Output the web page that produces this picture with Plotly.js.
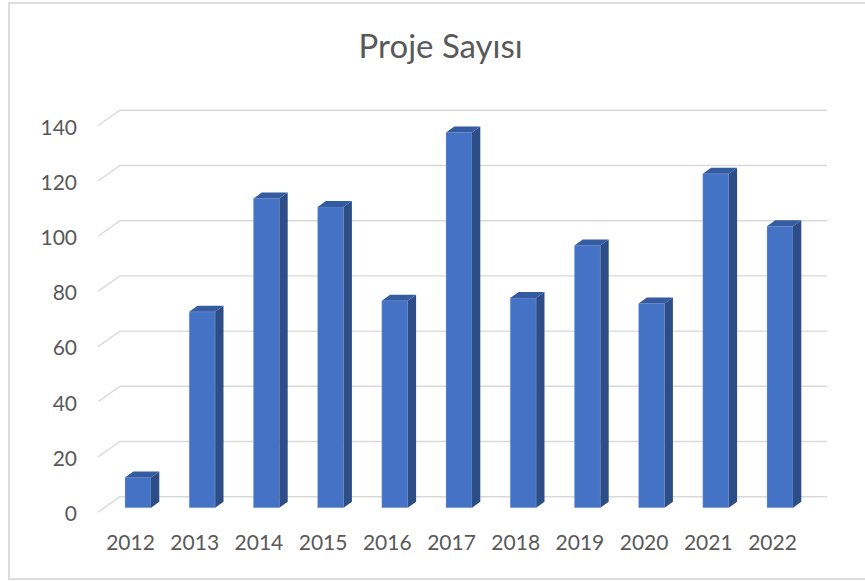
<!DOCTYPE html>
<html>
<head>
<meta charset="utf-8">
<script src="https://cdn.plot.ly/plotly-3.0.1.min.js"></script>
<style>
  html, body { margin: 0; padding: 0; background: #fff; }
  #wrap { position: relative; width: 865px; height: 581px; overflow: hidden; }
  #chart { width: 865px; height: 581px; }
  #frame { position: absolute; left: 8px; top: 2px; width: 880px; height: 578px;
           border: 2px solid #dcdcdc; pointer-events: none; box-sizing: border-box; }
</style>
</head>
<body>
<div id="wrap">
  <div id="chart"></div>
  <div id="frame"></div>
</div>
<script>
// ---- data ----
const years = ['2012', '2013', '2014', '2015', '2016', '2017', '2018', '2019', '2020', '2021', '2022'];
const projects = [11, 71, 112, 109, 75, 136, 76, 95, 74, 121, 102];
const yTickValues = [0, 20, 40, 60, 80, 100, 120, 140];
const chartTitle = 'Proje Sayısı';

// ---- pseudo-3D styling constants (pixels converted to axis units) ----
const PX_PER_X = 64.2;     // pixels per category
const PX_PER_Y = 2.76;     // pixels per value unit
const barWidth = 26 / PX_PER_X;
const depthDX = 8.3 / PX_PER_X;
const depthDY = 6 / PX_PER_Y;
const frontBase = -4.0;             // front faces sit in front of the back wall
const wallStartX = -18 / PX_PER_X;  // back wall left edge
const wallEndX = 689 / PX_PER_X;    // back wall right edge
const wallFrontX = -40 / PX_PER_X;  // front edge of the side wall
const wallFrontDY = -15.5 / PX_PER_Y;
const xLabelShift = -7.5 / PX_PER_X;
const yLabelShift = -17 / PX_PER_Y;

const xs = years.map((_, i) => i);

// gridlines (side wall diagonal + back wall)
const gx = [], gy = [];
yTickValues.forEach(v => {
  gx.push(wallFrontX, wallStartX, wallEndX, null);
  gy.push(v + wallFrontDY, v, v, null);
});

// side and top faces
const sx = [], sy = [], tx = [], ty = [];
xs.forEach((x, i) => {
  const v = projects[i];
  const xl = x - barWidth / 2, xr = x + barWidth / 2;
  const top = frontBase + v;
  sx.push(xr, xr + depthDX, xr + depthDX, xr, xr, null);
  sy.push(frontBase, frontBase + depthDY, top + depthDY, top, frontBase, null);
  tx.push(xl, xr, xr + depthDX, xl + depthDX, xl, null);
  ty.push(top, top, top + depthDY, top + depthDY, top, null);
});

const traces = [
  { type: 'scatter', mode: 'lines', x: gx, y: gy, xaxis: 'x', yaxis: 'y',
    line: { color: '#d9d9d9', width: 1.4 }, hoverinfo: 'skip', showlegend: false },
  { type: 'bar', x: xs, y: projects, base: frontBase, width: barWidth,
    xaxis: 'x2', yaxis: 'y2', name: chartTitle,
    marker: { color: '#4472C4', line: { color: 'rgba(160,185,230,0.6)', width: 0.6 } },
    showlegend: false },
  { type: 'scatter', mode: 'lines', x: sx, y: sy, xaxis: 'x2', yaxis: 'y2',
    fill: 'toself', fillcolor: '#2C4D85', line: { width: 0, color: '#2C4D85' },
    hoverinfo: 'skip', showlegend: false },
  { type: 'scatter', mode: 'lines', x: tx, y: ty, xaxis: 'x2', yaxis: 'y2',
    fill: 'toself', fillcolor: '#355BA1', line: { width: 0, color: '#355BA1' },
    hoverinfo: 'skip', showlegend: false }
];

const xRange = [-48 / PX_PER_X, 697 / PX_PER_X];
const yRange = [-28.3 / PX_PER_Y, 396.7 / PX_PER_Y];
const tickFont = { family: 'Lato, "Open Sans", sans-serif', size: 21, color: '#595959' };

const layout = {
  width: 865, height: 581,
  margin: { l: 90, r: 30, t: 100, b: 56 },
  paper_bgcolor: '#ffffff', plot_bgcolor: 'rgba(0,0,0,0)',
  showlegend: false,
  title: { text: chartTitle, font: { family: 'Lato, "Open Sans", sans-serif', size: 33, color: '#595959' },
           xref: 'container', yref: 'container', x: 440.7 / 865, xanchor: 'center',
           y: 1 - 46 / 581, yanchor: 'middle' },
  xaxis: { range: xRange, tickmode: 'array', tickvals: xs.map(x => x + xLabelShift), ticktext: years,
           showgrid: false, zeroline: false, showline: false, ticks: '', tickfont: tickFont,
           ticklabelstandoff: 3, fixedrange: true },
  yaxis: { range: yRange, tickmode: 'array', tickvals: yTickValues.map(v => v + yLabelShift),
           ticktext: yTickValues.map(String),
           showgrid: false, zeroline: false, showline: false, ticks: '', tickfont: tickFont,
           ticklabelstandoff: 12, fixedrange: true },
  xaxis2: { range: xRange, overlaying: 'x', visible: false, fixedrange: true },
  yaxis2: { range: yRange, overlaying: 'y', visible: false, fixedrange: true }
};

Plotly.newPlot('chart', traces, layout, { displayModeBar: false, staticPlot: true });
</script>
</body>
</html>
